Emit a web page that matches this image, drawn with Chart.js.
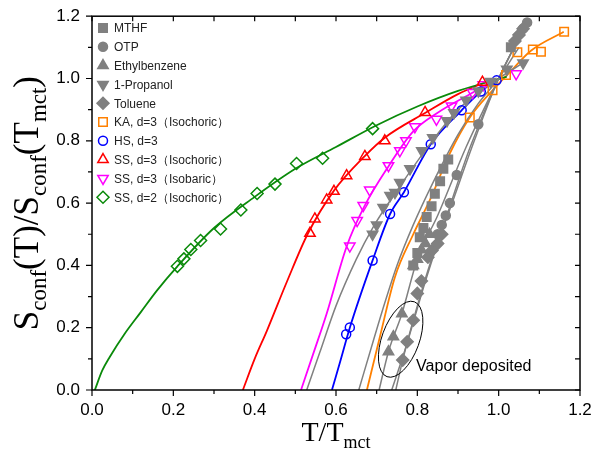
<!DOCTYPE html>
<html>
<head>
<meta charset="utf-8">
<script src="https://cdn.jsdelivr.net/npm/chart.js@4.4.0/dist/chart.umd.min.js"></script>
<style>
  html, body { margin: 0; padding: 0; background: #fff; }
</style>
</head>
<body>
<canvas id="chart" width="603" height="453"></canvas>
<script>
// ---- data (T/Tmct, Sconf/Sconf(Tmct)) ----
const mthfT = [0.79, 0.80, 0.806, 0.815, 0.823, 0.835, 0.843, 0.856, 0.864, 0.876, 1.03];
const mthfS = [0.40, 0.44, 0.49, 0.52, 0.555, 0.59, 0.63, 0.67, 0.71, 0.74, 1.10];
const otpT = [0.85, 0.86, 0.87, 0.88, 0.897, 0.95, 1.06, 1.07];
const otpS = [0.50, 0.53, 0.56, 0.60, 0.69, 0.853, 1.16, 1.18];
const ethT = [0.729, 0.741, 0.762, 0.79, 0.80, 0.81, 0.82, 0.83];
const ethS = [0.123, 0.171, 0.245, 0.40, 0.42, 0.45, 0.47, 0.50];
const propT = [0.69, 0.70, 0.716, 0.733, 0.745, 0.757, 0.782, 0.811, 0.838, 0.873, 0.89, 0.92, 0.95, 0.98, 1.02, 1.06];
const propS = [0.50, 0.53, 0.586, 0.624, 0.634, 0.666, 0.71, 0.768, 0.81, 0.864, 0.89, 0.93, 0.96, 0.99, 1.03, 1.05];
const tolT = [0.764, 0.775, 0.79, 0.80, 0.81, 0.826, 0.836, 0.85, 0.86, 1.04, 1.05, 1.06];
const tolS = [0.096, 0.155, 0.224, 0.31, 0.35, 0.426, 0.448, 0.47, 0.50, 1.12, 1.14, 1.16];

const kaT = [0.929, 0.985, 1.018, 1.046, 1.084, 1.104, 1.161];
const kaS = [0.875, 0.962, 1.011, 1.084, 1.093, 1.086, 1.150];
const hsT = [0.625, 0.634, 0.690, 0.733, 0.767, 0.833, 0.909, 0.956, 0.995];
const hsS = [0.179, 0.201, 0.416, 0.565, 0.635, 0.789, 0.898, 0.958, 0.994];
const ssIsoT = [0.536, 0.548, 0.577, 0.595, 0.626, 0.671, 0.720, 0.819, 0.960];
const ssIsoS = [0.503, 0.549, 0.610, 0.638, 0.688, 0.750, 0.800, 0.891, 0.988];
const ssBarT = [0.634, 0.652, 0.667, 0.683, 0.729, 0.757, 0.772, 0.794, 0.847, 0.884, 0.936, 0.962, 1.043];
const ssBarS = [0.462, 0.544, 0.592, 0.642, 0.720, 0.768, 0.800, 0.845, 0.869, 0.912, 0.955, 0.980, 1.015];
const ss2T = [0.210, 0.226, 0.243, 0.267, 0.316, 0.366, 0.406, 0.450, 0.503, 0.567, 0.690];
const ss2S = [0.397, 0.421, 0.451, 0.480, 0.517, 0.578, 0.631, 0.661, 0.727, 0.744, 0.839];

// fitted curves, points
const fitGreenT = [0.007, 0.025, 0.044, 0.08, 0.12, 0.16, 0.21, 0.30, 0.40, 0.50, 0.60, 0.70, 0.80, 0.90, 1.02];
const fitGreenS = [0.0, 0.062, 0.107, 0.18, 0.25, 0.32, 0.397, 0.52, 0.62, 0.71, 0.78, 0.85, 0.91, 0.96, 1.006];
const fitRedT = [0.371, 0.40, 0.43, 0.48, 0.53, 0.595, 0.67, 0.72, 0.82, 0.90, 0.99];
const fitRedS = [0.0, 0.10, 0.19, 0.35, 0.50, 0.64, 0.75, 0.81, 0.89, 0.95, 1.0];
const fitMagT = [0.514, 0.545, 0.577, 0.626, 0.67, 0.73, 0.79, 0.85, 0.93, 0.99];
const fitMagS = [0.0, 0.12, 0.245, 0.46, 0.59, 0.72, 0.83, 0.89, 0.95, 0.995];
const fitBlueT = [0.590, 0.61, 0.634, 0.69, 0.733, 0.767, 0.833, 0.909, 0.956, 1.0];
const fitBlueS = [0.0, 0.09, 0.20, 0.416, 0.565, 0.635, 0.789, 0.898, 0.958, 1.0];
const fitOrT = [0.676, 0.708, 0.745, 0.79, 0.831, 0.88, 0.929, 0.985, 1.02, 1.08, 1.16];
const fitOrS = [0.0, 0.171, 0.363, 0.50, 0.61, 0.76, 0.875, 0.962, 1.01, 1.09, 1.15];
const fitGray = [
  [[0.528, 0.56, 0.60, 0.65, 0.69, 0.75, 0.82, 0.90, 1.0, 1.06], [0.0, 0.12, 0.27, 0.42, 0.52, 0.64, 0.77, 0.90, 1.0, 1.05]],
  [[0.656, 0.69, 0.72, 0.75, 0.79, 0.84, 0.90, 0.95, 1.0, 1.05], [0.0, 0.15, 0.28, 0.40, 0.53, 0.67, 0.82, 0.92, 1.0, 1.10]],
  [[0.706, 0.729, 0.762, 0.80, 0.85, 0.92, 1.0, 1.06], [0.0, 0.123, 0.245, 0.42, 0.56, 0.78, 1.0, 1.16]],
  [[0.737, 0.77, 0.82, 0.87, 0.93, 1.0, 1.07], [0.0, 0.13, 0.35, 0.55, 0.78, 1.0, 1.18]],
  [[0.747, 0.764, 0.79, 0.83, 0.88, 0.94, 1.0, 1.07], [0.0, 0.096, 0.224, 0.40, 0.58, 0.80, 1.0, 1.18]]
];

// ellipse around the vapor deposited points: centre, half axes (data units), tilt
const ellipseC = [0.759, 0.163];
const ellipseR = [0.046, 0.128];
const ellipseTilt = 20;

const GRAY = '#808080';
const pts = (xs, ys) => xs.map((x, i) => ({ x: x, y: ys[i] }));

function markers(label, xs, ys, style, color, filled, rot) {
  return {
    label: label,
    data: pts(xs, ys),
    showLine: false,
    pointStyle: style,
    rotation: rot || 0,
    pointRadius: style === 'circle' ? 4.5 : 6,
    pointBorderWidth: 1.5,
    borderColor: color,
    backgroundColor: filled ? color : 'rgba(0,0,0,0)',
    order: 1
  };
}
function curve(xs, ys, color, w) {
  return {
    label: '',
    data: pts(xs, ys),
    showLine: true,
    pointRadius: 0,
    borderColor: color,
    borderWidth: w,
    cubicInterpolationMode: 'monotone',
    fill: false,
    order: 5
  };
}

const datasets = [];
fitGray.forEach(g => datasets.push(curve(g[0], g[1], GRAY, 1.5)));
datasets.push(curve(fitGreenT, fitGreenS, '#0a8a0a', 1.8));
datasets.push(curve(fitRedT, fitRedS, '#ff0000', 1.8));
datasets.push(curve(fitMagT, fitMagS, '#ff00ff', 1.8));
datasets.push(curve(fitBlueT, fitBlueS, '#0000ff', 1.8));
datasets.push(curve(fitOrT, fitOrS, '#ff8000', 1.8));

const legendSets = [
  markers('MTHF', mthfT, mthfS, 'rect', GRAY, true),
  markers('OTP', otpT, otpS, 'circle', GRAY, true),
  markers('Ethylbenzene', ethT, ethS, 'triangle', GRAY, true),
  markers('1-Propanol', propT, propS, 'triangle', GRAY, true, 180),
  markers('Toluene', tolT, tolS, 'rectRot', GRAY, true),
  markers('KA, d=3（Isochoric）', kaT, kaS, 'rect', '#ff8000', false),
  markers('HS, d=3', hsT, hsS, 'circle', '#0000ff', false),
  markers('SS, d=3（Isochoric）', ssIsoT, ssIsoS, 'triangle', '#ff0000', false),
  markers('SS, d=3（Isobaric）', ssBarT, ssBarS, 'triangle', '#ff00ff', false, 180),
  markers('SS, d=2（Isochoric）', ss2T, ss2S, 'rectRot', '#0a8a0a', false)
];
legendSets.forEach(d => datasets.push(d));

// frame, ticks, legend, titles and annotation
const decor = {
  id: 'decor',
  afterDraw(chart) {
    const ctx = chart.ctx, a = chart.chartArea;
    const xs = chart.scales.x, ys = chart.scales.y;
    ctx.save();
    ctx.strokeStyle = '#000';
    ctx.lineWidth = 1.5;
    ctx.strokeRect(a.left, a.top, a.right - a.left, a.bottom - a.top);
    ctx.lineWidth = 1.2;
    for (let i = 0; i <= 12; i++) {
      const v = i / 10, major = i % 2 === 0;
      const px = xs.getPixelForValue(v), py = ys.getPixelForValue(v);
      const L = major ? 6 : 4;
      ctx.beginPath();
      ctx.moveTo(px, a.bottom); ctx.lineTo(px, a.bottom + L);
      ctx.moveTo(px, a.top); ctx.lineTo(px, a.top + 5);
      ctx.moveTo(a.left, py); ctx.lineTo(a.left - L, py);
      ctx.moveTo(a.right, py); ctx.lineTo(a.right - 5, py);
      ctx.stroke();
    }

    // ellipse annotation
    const cx = xs.getPixelForValue(ellipseC[0]), cy = ys.getPixelForValue(ellipseC[1]);
    const rx = xs.getPixelForValue(ellipseC[0] + ellipseR[0]) - cx;
    const ry = cy - ys.getPixelForValue(ellipseC[1] + ellipseR[1]);
    ctx.lineWidth = 1;
    ctx.beginPath();
    ctx.ellipse(cx, cy, rx, ry, ellipseTilt * Math.PI / 180, 0, 2 * Math.PI);
    ctx.stroke();
    ctx.fillStyle = '#000';
    ctx.font = '16px "Liberation Sans", Arial, sans-serif';
    ctx.textBaseline = 'middle';
    ctx.textAlign = 'left';
    ctx.fillText('Vapor deposited', xs.getPixelForValue(0.797), ys.getPixelForValue(0.075));

    // legend
    ctx.font = '12px "Liberation Sans", Arial, sans-serif';
    legendSets.forEach((d, i) => {
      const y = 28 + i * 18.8;
      ctx.lineWidth = 1.5;
      ctx.strokeStyle = d.borderColor;
      ctx.fillStyle = d.backgroundColor;
      Chart.helpers.drawPoint(ctx, { pointStyle: d.pointStyle, rotation: d.rotation, radius: d.pointRadius, borderWidth: 1.5 }, 103, y);
      ctx.fillStyle = '#222';
      ctx.fillText(d.label, 114, y + 1);
    });

    // axis titles with subscripts
    ctx.fillStyle = '#000';
    ctx.textBaseline = 'alphabetic';
    function runs(parts, x, y, big, sml, drop) {
      let w = 0;
      parts.forEach(p => { ctx.font = p[1] ? sml : big; w += ctx.measureText(p[0]).width; });
      let cur = x - w / 2;
      parts.forEach(p => {
        ctx.font = p[1] ? sml : big;
        ctx.fillText(p[0], cur, y + (p[1] ? drop : 0));
        cur += ctx.measureText(p[0]).width;
      });
    }
    const serif = '"Liberation Serif", "Times New Roman", serif';
    runs([['T/T', 0], ['mct', 1]], (a.left + a.right) / 2, 441, '28px ' + serif, '18px ' + serif, 7);
    ctx.save();
    ctx.translate(38, (a.top + a.bottom) / 2);
    ctx.rotate(-Math.PI / 2);
    runs([['S', 0], ['conf', 1], ['(T)/S', 0], ['conf', 1], ['(T', 0], ['mct', 1], [')', 0]], 0, 0,
      '35px ' + serif, '23px ' + serif, 8);
    ctx.restore();
    ctx.restore();
  }
};

const tickFont = { family: '"Liberation Sans", Arial, sans-serif', size: 17 };
const label02 = v => (Math.round(v * 10) % 2 === 0 ? v.toFixed(1) : '');

new Chart(document.getElementById('chart'), {
  type: 'scatter',
  data: { datasets: datasets },
  options: {
    responsive: false,
    animation: false,
    layout: { padding: { top: 15, right: 23, left: 0, bottom: 0 } },
    plugins: { legend: { display: false }, tooltip: { enabled: false } },
    scales: {
      x: {
        min: 0, max: 1.2,
        border: { display: false },
        grid: { drawOnChartArea: false, color: 'rgba(0,0,0,0)', tickLength: 6 },
        ticks: { stepSize: 0.1, autoSkip: false, maxRotation: 0, color: '#000', font: tickFont, padding: 4, callback: label02 },
        afterFit(s) { s.height = 63; }
      },
      y: {
        min: 0, max: 1.2,
        border: { display: false },
        grid: { drawOnChartArea: false, color: 'rgba(0,0,0,0)', tickLength: 6 },
        ticks: { stepSize: 0.1, autoSkip: false, color: '#000', font: tickFont, padding: 6, callback: label02 },
        afterFit(s) { s.width = 92; }
      }
    }
  },
  plugins: [decor]
});
</script>
</body>
</html>
